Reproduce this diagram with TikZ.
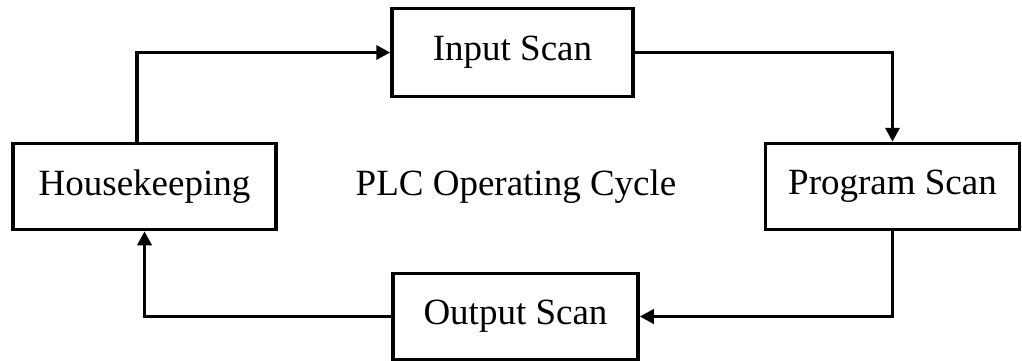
\documentclass[tikz,border=0pt]{standalone}
\usepackage{fontspec}
\setmainfont{Liberation Serif}
\usetikzlibrary{arrows.meta}

\begin{document}
\begin{tikzpicture}
[x=1pt,y=-1pt]
\tikzset{stage/.style={rectangle,draw,line width=3.5pt,inner sep=0pt,minimum height=86pt,font=\fontsize{37}{44}\selectfont}}
\tikzset{flow/.style={line width=3.5pt,-{Triangle[length=14pt,width=14pt]}}}
\useasboundingbox (0,0) rectangle (1022,361);

\node [stage,minimum width=241pt,minimum height=88pt] (input) at (512.5,52.5) {Input Scan};
\node [stage,minimum width=263pt] (house) at (144.5,186.5) {Housekeeping};
\node [stage,minimum width=254pt] (prog) at (892.5,186.5) {Program Scan};
\node [stage,minimum width=245pt] (output) at (515.5,316.5) {Output Scan};
\node [font=\fontsize{37}{44}\selectfont] (title) at (516,187) {PLC Operating Cycle};

\draw [flow] ([xshift=-7.5pt]house.north) |- (input.west);
\draw [flow] (input.east) -| (prog.north);
\draw [flow] (prog.south) |- (output.east);
\draw [flow] (output.west) -| (house.south);

\end{tikzpicture}
\end{document}
